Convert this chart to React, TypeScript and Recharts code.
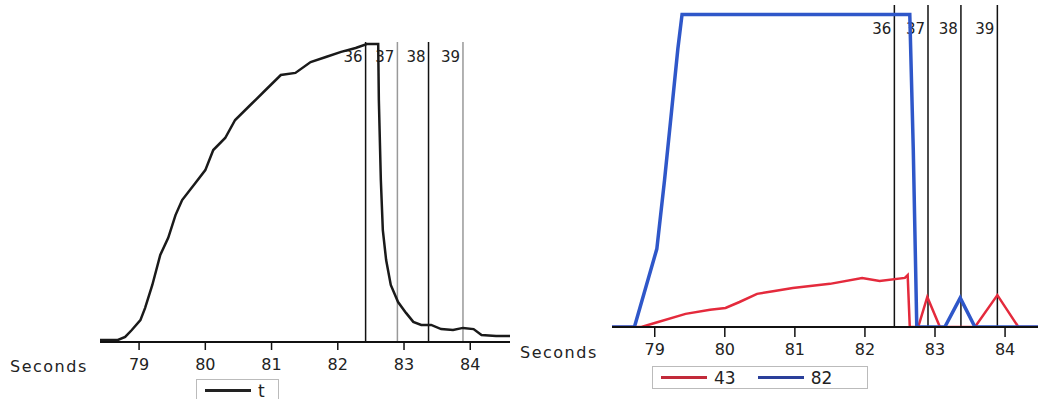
import { LineChart, Line, XAxis, YAxis, ReferenceLine } from 'recharts'

// seconds ticks shared by both panels
const secondTicks = [79, 80, 81, 82, 83, 84]

// event markers
const markerLabels = ['36', '37', '38', '39']
const markerSeconds = [82.42, 82.9, 83.37, 83.89]
const leftMarkerColors = ['#111', '#999', '#111', '#999']

// left panel: series "t"
const tSeconds = [
  78.41, 78.68, 78.79, 78.89, 79.02, 79.09, 79.2, 79.32, 79.44, 79.55, 79.65, 79.85, 80.0, 80.12,
  80.3, 80.45, 80.68, 80.91, 81.14, 81.36, 81.59, 81.82, 82.05, 82.27, 82.44, 82.61, 82.62, 82.65,
  82.68, 82.73, 82.8, 82.91, 83.03, 83.14, 83.26, 83.41, 83.56, 83.74, 83.89, 84.05, 84.17, 84.39,
  84.6,
]
const tValues = [
  0.7, 0.7, 1.7, 4, 7.3, 11.3, 19, 29, 34.7, 42.3, 47.3, 53, 57.3, 64, 68, 74, 79, 84, 89, 89.7,
  93.3, 95, 96.7, 98, 99.3, 99.3, 80.7, 54, 37.3, 27.3, 19, 13.3, 9.7, 6.7, 5.7, 5.7, 4.3, 4, 4.7,
  4.3, 2.3, 2, 2,
]

// right panel: series "43" (red) and "82" (blue)
const redSeconds = [
  78.39, 78.81, 79.0, 79.44, 79.79, 80.01, 80.21, 80.46, 80.71, 80.97, 81.5, 81.96, 82.21, 82.57,
  82.61, 82.64, 82.76, 82.89, 83.07, 83.57, 83.89, 84.19, 84.47,
]
const redValues = [
  0, 0, 1.3, 4.2, 5.5, 6.1, 8, 10.6, 11.5, 12.5, 13.8, 15.7, 14.7, 15.7, 16.6, 0, 0, 9.6, 0, 0,
  10.2, 0, 0,
]
const blueSeconds = [78.39, 78.71, 79.03, 79.14, 79.24, 79.33, 79.39, 82.64, 82.69, 82.74, 83.14, 83.36, 83.57, 84.47]
const blueValues = [0, 0, 25, 47, 69, 89, 100, 100, 56.6, 0, 0, 9.3, 0, 0]

const toPoints = (xs: number[], ys: number[]) => xs.map((s, i) => ({ s, v: ys[i] }))

const tData = toPoints(tSeconds, tValues)
const redData = toPoints(redSeconds, redValues)
const blueData = toPoints(blueSeconds, blueValues)

const FONT = '"DejaVu Sans", Verdana, sans-serif'

function markerLabel(text: string, dy: number) {
  return (props: any) => {
    const { viewBox } = props
    return (
      <text
        x={viewBox.x - 3}
        y={viewBox.y + dy}
        textAnchor="end"
        fontFamily={FONT}
        fontSize={15}
        fill="#222"
      >
        {text}
      </text>
    )
  }
}

function LegendBox({ left, top, width, items }: { left: number; top: number; width: number; items: { name: string; color: string }[] }) {
  return (
    <div
      style={{
        position: 'absolute',
        left,
        top,
        width,
        height: 23,
        border: '1px solid #bbb',
        display: 'flex',
        alignItems: 'center',
        fontFamily: FONT,
        fontSize: 17,
        color: '#222',
        boxSizing: 'border-box',
        paddingLeft: 8,
        gap: 22,
      }}
    >
      {items.map((it) => (
        <span key={it.name} style={{ display: 'flex', alignItems: 'center', gap: 7 }}>
          <span style={{ display: 'inline-block', width: 46, height: 3, background: it.color }} />
          {it.name}
        </span>
      ))}
    </div>
  )
}

const tickStyle = { fill: '#222', fontSize: 16, fontFamily: FONT }
const secondsStyle = { position: 'absolute' as const, fontFamily: FONT, fontSize: 16, letterSpacing: 1.5, color: '#222' }

export default function App() {
  return (
    <div style={{ position: 'absolute', left: 0, top: 0, width: 1038, height: 399, background: '#fff', overflow: 'hidden' }}>
      <div style={{ position: 'absolute', left: 0, top: 0 }}>
        <LineChart width={520} height={399} margin={{ top: 42, left: 100, right: 10, bottom: 27 }}>
          <XAxis
            type="number"
            dataKey="s"
            domain={[78.41, 84.6]}
            ticks={secondTicks}
            allowDataOverflow
            height={30}
            axisLine={{ stroke: '#111', strokeWidth: 2 }}
            tickLine={{ stroke: '#111', strokeWidth: 1.5 }}
            tickSize={8}
            tickMargin={9}
            tick={tickStyle}
          />
          <YAxis hide domain={[0, 100]} allowDataOverflow />
          {markerSeconds.map((s, i) => (
            <ReferenceLine
              key={markerLabels[i]}
              x={s}
              stroke={leftMarkerColors[i]}
              strokeWidth={1.5}
              segment={[{ x: s, y: 0 }, { x: s, y: 99 }]}
              label={markerLabel(markerLabels[i], 20)}
            />
          ))}
          <Line data={tData} dataKey="v" type="linear" stroke="#1a1a1a" strokeWidth={2.5} dot={false} isAnimationActive={false} />
        </LineChart>
      </div>
      <div style={{ position: 'absolute', left: 520, top: 0 }}>
        <LineChart width={518} height={399} margin={{ top: 5, left: 92, right: 0, bottom: 42 }}>
          <XAxis
            type="number"
            dataKey="s"
            domain={[78.39, 84.47]}
            ticks={secondTicks}
            allowDataOverflow
            height={30}
            axisLine={{ stroke: '#111', strokeWidth: 2 }}
            tickLine={{ stroke: '#111', strokeWidth: 1.5 }}
            tickSize={10}
            tickMargin={7}
            tick={tickStyle}
          />
          <YAxis hide domain={[0, 103]} allowDataOverflow />
          {markerSeconds.map((s, i) => (
            <ReferenceLine
              key={markerLabels[i]}
              x={s}
              stroke="#111"
              strokeWidth={1.5}
              segment={[{ x: s, y: 0 }, { x: s, y: 100.5 }]}
              label={markerLabel(markerLabels[i], 29)}
            />
          ))}
          <Line data={redData} dataKey="v" type="linear" stroke="#e42a3c" strokeWidth={2.5} dot={false} isAnimationActive={false} />
          <Line data={blueData} dataKey="v" type="linear" stroke="#2f57c9" strokeWidth={3.5} dot={false} isAnimationActive={false} />
        </LineChart>
      </div>
      <div style={{ ...secondsStyle, left: 10, top: 357 }}>Seconds</div>
      <div style={{ ...secondsStyle, left: 520, top: 343 }}>Seconds</div>
      <LegendBox left={196} top={379} width={83} items={[{ name: 't', color: '#222' }]} />
      <LegendBox left={652} top={366} width={216} items={[{ name: '43', color: '#c22a3a' }, { name: '82', color: '#2a3f9a' }]} />
    </div>
  )
}
